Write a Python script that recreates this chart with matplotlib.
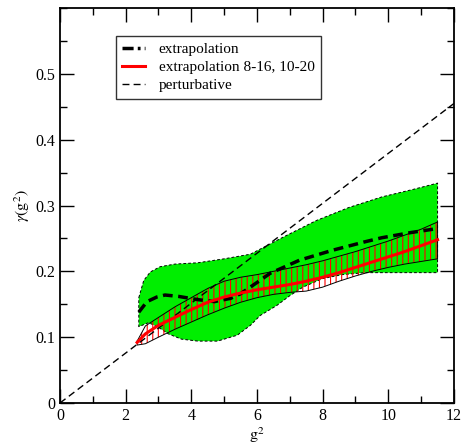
import matplotlib
matplotlib.use("Agg")
import matplotlib.pyplot as plt
from matplotlib.lines import Line2D
from matplotlib.ticker import MultipleLocator, FuncFormatter

plt.rcParams['font.family'] = ['Liberation Serif', 'DejaVu Serif']
plt.rcParams['mathtext.fontset'] = 'stix'
plt.rcParams['lines.scale_dashes'] = False
plt.rcParams['hatch.linewidth'] = 0.8

# green error band (upper and lower edges)
green_hi_x = [2.4, 2.55, 2.75, 3.05, 3.5, 4.2, 5.0, 5.8, 6.8, 7.8, 8.8, 9.8, 10.8, 11.5]
green_hi = [0.160, 0.186, 0.199, 0.207, 0.211, 0.213, 0.219, 0.226, 0.252, 0.277, 0.297, 0.313, 0.325, 0.334]
green_lo_x = [2.4, 2.7, 3.0, 3.3, 3.7, 4.2, 4.8, 5.4, 5.8, 6.1, 6.6, 7.0, 7.4, 8.0, 8.6, 9.3, 10.5, 11.5]
green_lo = [0.116, 0.122, 0.115, 0.105, 0.097, 0.094, 0.094, 0.103, 0.118, 0.133, 0.148, 0.163, 0.176, 0.189, 0.195, 0.198, 0.198, 0.198]

# extrapolation 8-16, 10-20 with hatched band
band_x = [2.35, 2.6, 3.0, 3.5, 4.0, 4.5, 5.0, 5.5, 6.0, 6.5, 7.0, 7.5, 8.0, 8.5, 9.0, 9.5, 10.0, 10.5, 11.0, 11.5]
red_y = [0.092, 0.105, 0.118, 0.130, 0.142, 0.153, 0.161, 0.167, 0.172, 0.176, 0.180, 0.185, 0.191, 0.198, 0.206, 0.214, 0.222, 0.230, 0.239, 0.248]
band_hi = [0.094, 0.117, 0.130, 0.146, 0.160, 0.174, 0.185, 0.191, 0.195, 0.200, 0.205, 0.210, 0.216, 0.223, 0.230, 0.238, 0.246, 0.255, 0.264, 0.275]
band_lo = [0.088, 0.090, 0.100, 0.112, 0.123, 0.134, 0.144, 0.153, 0.160, 0.165, 0.168, 0.170, 0.176, 0.185, 0.193, 0.200, 0.206, 0.211, 0.215, 0.219]

# extrapolation (thick dashed)
ext_x = [2.4, 2.65, 2.95, 3.2, 3.6, 4.2, 4.7, 5.2, 5.5, 6.0, 6.4, 7.3, 8.3, 9.3, 9.8, 10.7, 11.5]
ext_y = [0.138, 0.154, 0.161, 0.164, 0.162, 0.157, 0.154, 0.159, 0.166, 0.183, 0.197, 0.217, 0.232, 0.245, 0.251, 0.259, 0.265]

# perturbative
pert_x = [0, 12]
pert_y = [0, 0.455]

fig = plt.figure(figsize=(4.64, 4.45), dpi=100)
ax = fig.add_axes([0.1293, 0.0944, 0.8491, 0.8876])

# green region
poly_x = green_hi_x + green_lo_x[::-1]
poly_y = green_hi + green_lo[::-1]
ax.fill(poly_x, poly_y, facecolor='#00ee00', edgecolor='none', zorder=1)
ax.plot(poly_x + [poly_x[0]], poly_y + [poly_y[0]], color='black', lw=0.7,
        dashes=[2, 1.5], zorder=2)

# hatched band
bx = band_x + band_x[::-1]
by = band_hi + band_lo[::-1]
ax.fill(bx, by, facecolor='none', edgecolor='red', hatch='|||', lw=0, zorder=3)
ax.plot(bx + [bx[0]], by + [by[0]], color='black', lw=0.7, zorder=4)

ax.plot(pert_x, pert_y, color='black', lw=1.0, dashes=[5, 3], zorder=5)
ax.plot(ext_x, ext_y, color='black', lw=2.5, dashes=[7, 4], zorder=6)
ax.plot(band_x, red_y, color='red', lw=2.2, zorder=7)

ax.set_xlim(0, 12)
ax.set_ylim(0, 0.6)
ax.xaxis.set_major_locator(MultipleLocator(2))
ax.xaxis.set_minor_locator(MultipleLocator(1))
ax.yaxis.set_major_locator(MultipleLocator(0.1))
ax.yaxis.set_minor_locator(MultipleLocator(0.05))
ax.yaxis.set_major_formatter(FuncFormatter(lambda v, p: '0' if abs(v) < 1e-9 else '%.1f' % v))
ax.tick_params(which='both', direction='in', top=True, right=True, labelsize=11.5, width=1)
ax.tick_params(which='major', length=10)
ax.tick_params(which='minor', length=5)
ax.set_yticks([0, 0.1, 0.2, 0.3, 0.4, 0.5])
for s in ax.spines.values():
    s.set_linewidth(1.3)

ax.set_xlabel(r'$\mathrm{g}^2$', fontsize=11.5, labelpad=1)
ax.set_ylabel(r'$\gamma(\mathrm{g}^2)$', fontsize=11.5, labelpad=2)

handles = [
    Line2D([], [], color='black', lw=2.5, dashes=[8, 3, 2, 3]),
    Line2D([], [], color='red', lw=2.2),
    Line2D([], [], color='black', lw=1.0, dashes=[5, 3]),
]
labels = ['extrapolation', 'extrapolation 8-16, 10-20', 'perturbative']
leg = ax.legend(handles, labels, loc='upper left', bbox_to_anchor=(0.142, 0.929),
                borderaxespad=0, fancybox=False, frameon=True, fontsize=11,
                handlelength=1.5, handletextpad=0.9, labelspacing=0.3, borderpad=0.4)
leg.get_frame().set_edgecolor('black')
leg.get_frame().set_linewidth(1.0)

fig.savefig('out.png', dpi=100)
